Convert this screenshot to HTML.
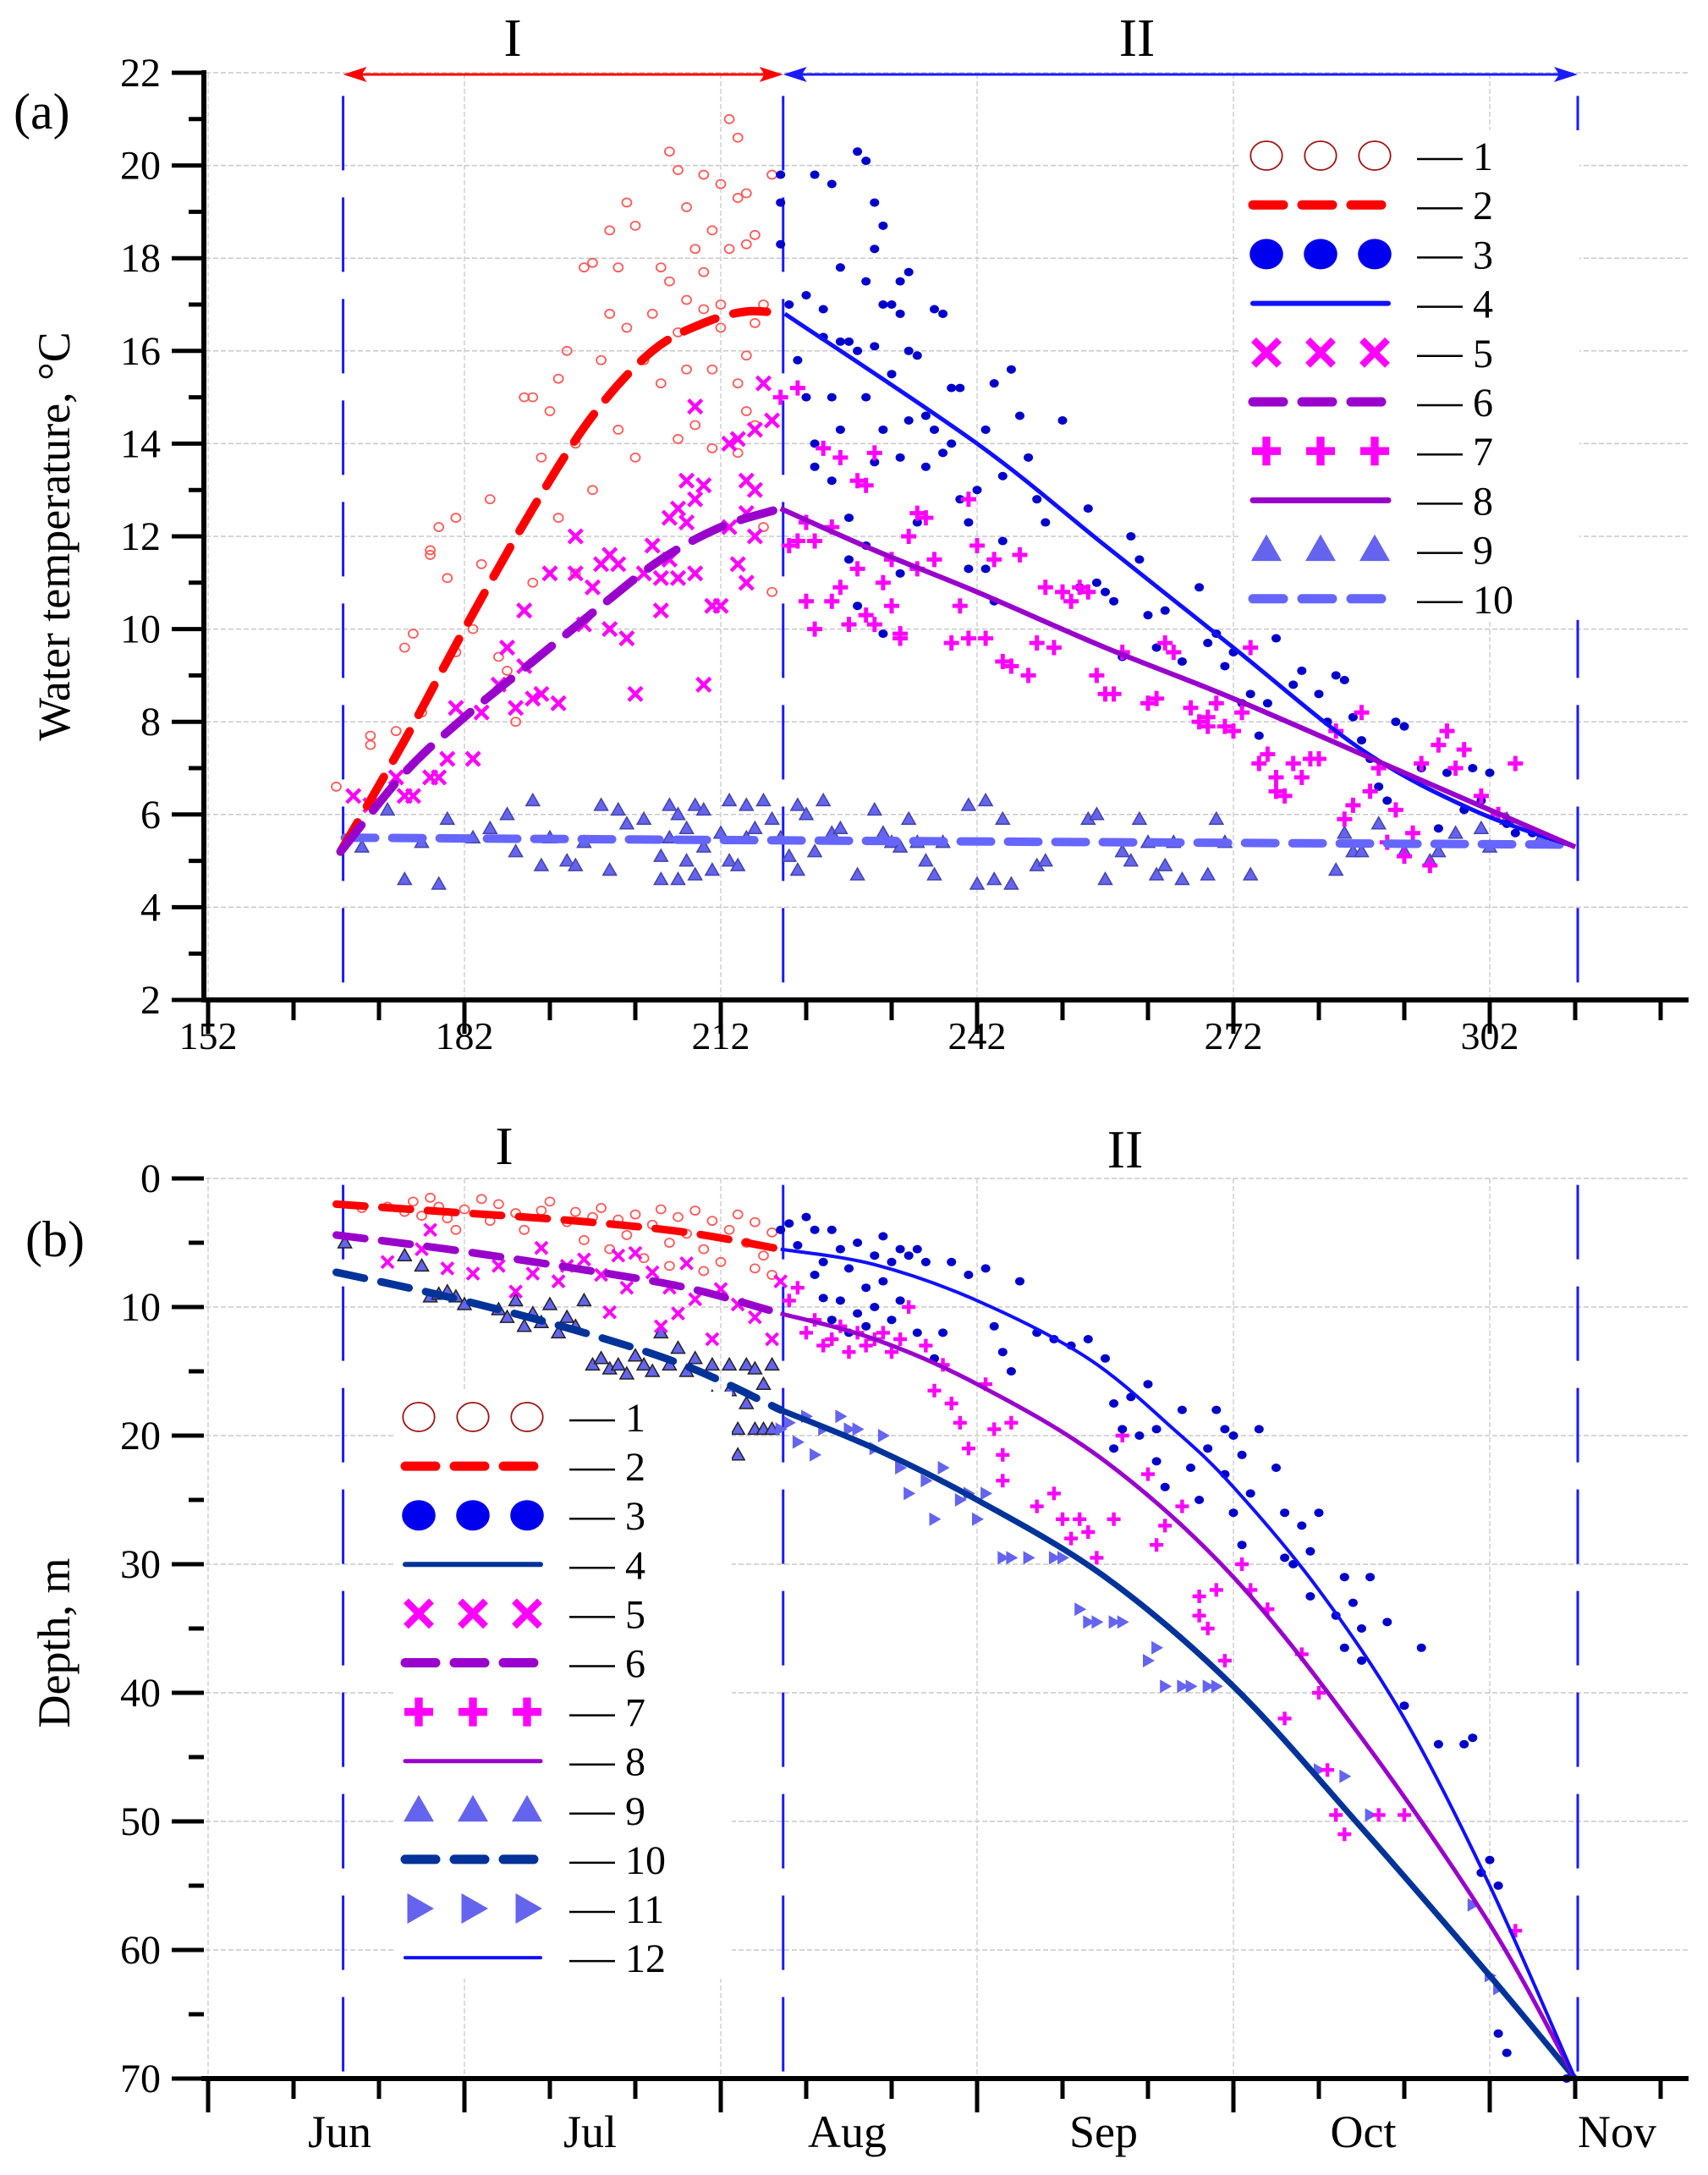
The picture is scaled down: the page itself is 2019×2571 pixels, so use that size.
<!DOCTYPE html>
<html><head><meta charset="utf-8"><style>
html,body{margin:0;padding:0;background:#fff}
svg{display:block;font-family:"Liberation Serif",serif}
</style></head><body>
<svg id="chart" width="2019" height="2571" viewBox="0 0 2019 2571" xmlns="http://www.w3.org/2000/svg">
<rect width="2019" height="2571" fill="#fff"/>
<g id="pa"></g>
<g id="pb"></g>
</svg>
<script>
// ---------- Panel (a) data ----------
const aXTicks=[152,182,212,242,272,302];
const aYTicks=[2,4,6,8,10,12,14,16,18,20,22];
const aS1=[[167,6.6],[171,7.7],[171,7.5],[174,7.8],[175,9.6],[176,9.9],[177,8.2],[178,11.7],[178,11.6],[179,12.2],[180,11.1],[181,12.4],[181,9.5],[183,10.0],[184,11.4],[185,12.8],[186,9.4],[187,9.1],[188,8.0],[189,15.0],[190,15.0],[190,11.0],[191,13.7],[192,14.7],[193,15.4],[193,12.4],[194,16.0],[195,14.0],[195,11.2],[196,17.8],[197,17.9],[197,13.0],[198,15.8],[199,18.6],[199,16.8],[200,17.8],[200,14.3],[201,19.2],[201,16.5],[202,18.7],[202,13.7],[203,15.8],[204,16.8],[205,17.8],[205,15.3],[206,20.3],[206,17.5],[207,19.9],[207,16.4],[207,14.1],[208,19.1],[208,15.6],[208,17.1],[209,18.2],[209,14.4],[210,19.8],[210,17.7],[210,16.9],[211,18.6],[211,15.6],[211,13.9],[212,19.6],[212,17.0],[212,16.5],[213,21.0],[213,18.2],[214,20.6],[214,19.3],[214,15.3],[214,13.8],[215,19.4],[215,18.3],[215,15.9],[215,14.7],[216,18.5],[216,16.6],[216,14.4],[217,17.0],[217,12.2],[218,19.8],[218,10.8]];
const aS2=[[167.5,5.2],[175,7.6],[182,10.0],[190,12.6],[197,14.6],[204,16.0],[210,16.6],[215,16.85],[219.5,16.8]];
const aS3=[[219,19.8],[219,19.2],[219,18.3],[220,17.0],[221,15.8],[222,17.2],[222,15.0],[223,19.8],[223,14.0],[223,13.5],[224,16.3],[224,16.9],[225,19.6],[225,15.0],[225,13.2],[226,17.8],[226,16.2],[226,14.3],[227,16.2],[227,12.4],[227,11.5],[228,20.3],[228,16.0],[228,10.5],[229,20.1],[229,17.5],[229,15.0],[229,11.8],[230,19.2],[230,18.2],[230,16.1],[230,13.6],[231,18.7],[231,17.0],[231,14.3],[231,9.9],[232,17.0],[232,15.5],[233,16.8],[233,17.5],[233,13.7],[233,11.2],[234,17.7],[234,16.0],[234,14.5],[235,15.9],[235,12.3],[236,14.6],[236,13.5],[237,16.9],[237,14.3],[238,16.8],[238,13.8],[239,15.2],[239,14.0],[240,15.2],[240,12.8],[241,12.3],[241,11.3],[242,13.0],[243,14.3],[243,11.3],[244,15.3],[244,10.6],[245,13.3],[245,11.9],[246,15.6],[247,14.6],[248,13.7],[249,12.8],[250,12.3],[252,14.5],[254,10.9],[255,12.6],[256,11.0],[257,10.8],[258,10.6],[259,9.4],[260,12.0],[261,11.5],[262,10.3],[263,9.6],[264,10.4],[266,9.3],[268,10.9],[269,9.7],[270,9.9],[271,9.2],[272,9.5],[273,8.4],[274,8.6],[275,7.7],[276,8.4],[277,9.8],[279,8.8],[280,9.1],[282,8.6],[283,8.0],[284,9.0],[285,8.9],[286,8.1],[287,7.6],[288,7.2],[289,6.6],[290,6.3],[291,8.0],[292,7.9],[294,7.0],[296,5.7],[297,6.9],[299,6.1],[300,7.0],[301,6.3],[302,6.9],[304,5.8],[305,5.6],[307,5.6]];
const aS4=[[219.5,16.8],[242,14.0],[257,11.8],[272,9.6],[287,7.4],[300,6.1],[312,5.3]];
const aS5=[[169,6.4],[171,6.2],[174,6.8],[175,6.4],[176,6.4],[178,6.8],[179,6.8],[180,7.2],[181,8.3],[183,7.2],[184,8.2],[186,8.8],[187,9.6],[188,8.3],[189,10.4],[189,9.2],[190,8.5],[191,8.6],[192,11.2],[193,8.4],[195,12.0],[195,11.2],[196,10.1],[197,10.9],[198,11.4],[199,11.6],[199,10.0],[200,11.4],[201,9.8],[202,8.6],[203,11.2],[204,11.8],[205,11.1],[205,10.4],[206,12.4],[206,11.5],[207,12.6],[207,11.1],[208,13.2],[208,12.3],[209,12.8],[209,14.8],[209,11.2],[210,13.1],[210,8.8],[211,10.5],[212,10.5],[213,14.0],[213,12.2],[214,14.1],[214,11.4],[215,13.2],[215,12.5],[215,11.0],[216,14.3],[216,13.0],[216,12.0],[217,15.3],[218,14.5]];
const aS6=[[167.5,5.2],[175,6.9],[182,8.1],[190,9.3],[198,10.5],[205,11.5],[212,12.2],[219,12.6]];
const aS7=[[219,15.0],[220,11.8],[221,15.2],[221,11.9],[222,12.3],[222,10.6],[223,11.9],[223,10.0],[224,13.9],[225,12.2],[225,10.6],[226,13.7],[226,10.9],[227,10.1],[228,13.2],[228,11.3],[229,13.1],[229,10.3],[230,13.8],[230,10.1],[231,11.0],[232,11.5],[232,10.5],[233,9.8],[233,9.9],[234,12.0],[235,12.5],[235,11.3],[236,12.4],[237,11.5],[239,9.7],[240,10.5],[241,12.8],[241,9.8],[242,11.8],[243,9.8],[244,11.5],[245,9.3],[246,9.2],[247,11.6],[248,9.0],[249,9.7],[250,10.9],[251,9.6],[252,10.8],[253,10.6],[254,10.9],[255,10.8],[256,9.0],[257,8.6],[258,8.6],[259,9.5],[262,8.4],[263,8.5],[264,9.7],[265,9.5],[267,8.3],[268,8.0],[269,8.1],[269,7.9],[270,8.4],[271,7.9],[272,7.8],[273,8.2],[274,9.6],[275,7.1],[276,7.3],[277,6.8],[277,6.5],[278,6.4],[279,7.1],[280,6.8],[281,7.2],[282,7.2],[284,7.8],[285,5.9],[286,6.2],[287,8.2],[288,6.5],[289,7.0],[290,5.4],[291,6.1],[292,5.1],[293,5.6],[294,7.1],[295,4.9],[296,7.5],[297,7.8],[298,7.0],[299,7.4],[301,6.4],[303,6.0],[305,7.1]];
const aS8=[[219,12.6],[230,11.7],[242,10.8],[257,9.6],[272,8.5],[292,6.9],[312,5.3]];
const aS9=[[170,5.3],[173,6.1],[175,4.6],[177,5.4],[179,4.5],[180,5.9],[183,5.5],[185,5.7],[187,6.0],[188,5.2],[190,6.3],[191,4.9],[192,5.5],[194,5.0],[195,4.9],[196,5.4],[198,6.2],[199,4.8],[200,6.1],[201,5.8],[203,5.9],[205,5.1],[205,4.6],[206,6.2],[206,5.5],[207,4.6],[207,6.0],[208,5.0],[208,5.7],[209,6.2],[209,4.7],[210,5.3],[210,6.1],[211,4.8],[212,5.6],[213,6.3],[213,5.0],[214,4.9],[215,6.2],[215,5.5],[216,5.7],[217,6.3],[218,5.9],[219,5.5],[220,5.1],[221,6.2],[221,4.8],[222,6.0],[223,5.2],[224,6.3],[225,5.6],[226,5.7],[228,4.7],[230,6.1],[231,5.6],[232,5.4],[233,5.3],[234,5.9],[235,5.4],[236,5.0],[237,4.7],[238,5.4],[241,6.2],[242,4.5],[243,6.3],[244,4.6],[245,5.9],[246,4.5],[249,4.9],[250,5.0],[255,5.9],[256,6.0],[257,4.6],[259,5.2],[260,5.0],[261,5.9],[262,5.4],[263,4.7],[264,4.9],[265,5.4],[266,4.6],[269,4.7],[270,5.9],[271,5.4],[274,4.7],[284,4.8],[285,5.6],[286,5.2],[287,5.2],[289,5.8],[292,5.2],[295,5.0],[296,5.2],[298,5.6],[301,5.7],[302,5.3],[304,5.9],[308,5.5]];
const aS10=[[168,5.5],[240,5.42],[312,5.35]];
// ---------- Panel (b) data ----------
const bMonths=["Jun","Jul","Aug","Sep","Oct","Nov"];
const bMonthDays=[167.4,196.7,226.8,256.8,287.2,316.9];
const bYTicks=[0,10,20,30,40,50,60,70];
const bS1=[[170,2.3],[173,2.2],[175,2.6],[176,1.8],[177,2.9],[178,1.5],[179,2.2],[180,3.1],[181,4.0],[182,2.4],[184,1.6],[185,3.3],[186,2.0],[188,2.7],[189,4.0],[191,2.5],[192,1.8],[194,3.4],[195,2.6],[196,4.8],[197,3.0],[198,2.3],[199,5.5],[200,3.2],[201,4.4],[202,2.8],[203,6.2],[204,3.6],[205,2.4],[206,5.0],[207,3.0],[208,4.3],[209,2.5],[210,5.5],[211,3.3],[212,6.5],[213,4.0],[214,2.8],[215,5.0],[216,3.4],[217,6.0],[218,4.2],[218,7.5],[216,7.0],[210,7.2],[206,6.8]];
const bS2=[[167,2.0],[180,2.6],[195,3.3],[208,4.2],[219,5.5]];
const bS3=[[219,4.0],[220,3.5],[221,5.2],[222,3.0],[223,4.0],[223,7.5],[224,9.3],[224,6.5],[225,4.0],[225,11.0],[226,5.5],[226,9.5],[227,12.0],[227,7.0],[228,5.0],[228,10.5],[229,8.5],[229,11.5],[230,6.0],[230,10.0],[231,4.5],[231,8.0],[232,11.0],[232,6.5],[233,5.5],[233,9.5],[234,6.0],[235,12.0],[235,5.5],[236,6.5],[237,14.0],[238,12.0],[239,6.5],[241,7.5],[243,7.0],[244,11.5],[245,13.5],[246,15.0],[247,8.0],[249,12.0],[251,12.5],[253,13.0],[255,12.5],[257,14.0],[258,21.0],[258,17.5],[259,19.5],[260,17.0],[261,20.0],[262,16.0],[263,22.0],[263,19.5],[264,24.0],[266,18.0],[267,22.5],[268,25.0],[269,21.0],[270,18.0],[271,19.5],[271,23.0],[272,20.0],[272,26.0],[273,28.5],[273,21.5],[274,24.5],[275,19.5],[277,22.5],[278,29.5],[278,26.0],[279,30.0],[280,27.0],[281,32.5],[281,29.0],[282,26.0],[284,34.0],[285,36.5],[285,31.0],[286,33.0],[287,35.0],[287,37.5],[288,31.0],[290,34.5],[292,41.0],[294,36.5],[296,44.0],[299,44.0],[300,43.5],[301,54.0],[302,53.0],[303,55.0],[303,66.5],[304,68.0],[311,70]];
const bS4=[[219,18],[230,21],[242,25],[257,31],[272,39.5],[287,50.5],[302,62],[312,70]];
const bS5=[[173,6.5],[177,5.5],[178,4.0],[180,7.0],[183,7.4],[186,6.8],[188,8.8],[190,7.4],[191,5.4],[193,8.0],[194,6.8],[196,6.3],[198,7.5],[199,10.4],[200,6.0],[201,8.5],[202,5.8],[204,7.3],[205,11.5],[206,8.5],[207,10.5],[208,6.6],[209,9.4],[211,12.5],[212,8.6],[214,9.8],[216,10.8],[218,12.5],[219,8.0]];
const bS6=[[167,4.4],[180,5.5],[195,7.0],[208,8.5],[219,10.5]];
const bS7=[[220,9.5],[221,8.5],[222,12.0],[223,11.0],[224,13.0],[225,12.5],[226,11.5],[227,13.5],[228,12.0],[229,13.0],[230,12.5],[231,12.0],[232,13.5],[233,12.5],[234,10.0],[236,13.0],[237,16.5],[238,14.5],[239,17.5],[240,19.0],[241,21.0],[243,16.0],[244,19.5],[245,21.5],[245,23.5],[246,19.0],[249,25.5],[251,24.5],[252,26.5],[253,28.0],[254,26.5],[255,27.5],[256,29.5],[258,26.5],[259,20.0],[262,23.0],[263,28.5],[264,27.0],[266,25.5],[268,32.5],[268,34.0],[269,35.0],[270,32.0],[271,37.5],[273,30.0],[274,32.0],[276,33.5],[278,42.0],[280,37.0],[282,40.0],[283,46.0],[284,49.5],[285,51.0],[289,49.5],[292,49.5],[305,58.5]];
const bS8=[[219,10.5],[230,12.5],[242,16],[257,22],[272,31],[287,43.5],[302,58],[312,70]];
const bS9=[[168,5.0],[175,6.0],[177,6.8],[178,9.2],[179,9.0],[180,8.8],[181,9.2],[182,9.8],[186,10.2],[187,10.8],[188,9.5],[189,11.5],[190,10.5],[191,11.2],[192,9.8],[193,12.0],[194,10.8],[195,11.5],[196,9.5],[197,14.5],[198,14.0],[199,14.8],[200,14.5],[201,15.2],[202,13.8],[203,14.5],[204,15.0],[205,12.0],[206,14.5],[207,13.2],[208,15.0],[209,14.0],[210,19.5],[211,14.5],[212,18.5],[212,19.5],[213,16.5],[213,14.5],[214,19.5],[214,21.5],[215,17.5],[215,14.5],[216,19.5],[216,14.8],[217,16.0],[217,19.5],[218,19.5],[218,14.5],[209,19.5],[211,17.0]];
const bS10=[[167,7.3],[180,9.2],[195,11.8],[208,14.6],[219,18]];
const bS11=[[219,19.5],[220,19.0],[221,20.5],[222,18.5],[223,21.5],[224,19.5],[226,18.5],[227,19.5],[228,19.5],[230,21.0],[231,20.0],[233,22.5],[234,24.5],[236,23.5],[237,26.5],[238,22.5],[240,25.0],[241,24.5],[242,26.5],[243,24.5],[245,29.5],[246,29.5],[248,29.5],[251,29.5],[252,29.5],[254,33.5],[255,34.5],[256,34.5],[258,34.5],[259,34.5],[262,37.5],[263,36.5],[264,39.5],[266,39.5],[267,39.5],[269,39.5],[270,39.5],[282,46.0],[285,46.5],[288,49.5],[300,56.5],[302,62.0],[303,63.0]];
const bS12=[[219,5.5],[230,6.7],[242,9.5],[255,14],[265,19.5],[272,24],[282,32],[292,42],[302,55],[312,70]];
const vLines=[167.8,219.3,312.3];

const NS="http://www.w3.org/2000/svg";
function el(p,t,a){const e=document.createElementNS(NS,t);for(const k in a)e.setAttribute(k,a[k]);p.appendChild(e);return e;}
const X=d=>246+(d-152)*10.1;
const aY=v=>86+(22-v)*54.8;
const bY=v=>1393+v*15.2;

function smooth(pts){
  let d="M"+pts[0][0]+","+pts[0][1];
  for(let i=0;i<pts.length-1;i++){
    const p0=pts[Math.max(0,i-1)],p1=pts[i],p2=pts[i+1],p3=pts[Math.min(pts.length-1,i+2)];
    const c1=[p1[0]+(p2[0]-p0[0])/6,p1[1]+(p2[1]-p0[1])/6];
    const c2=[p2[0]-(p3[0]-p1[0])/6,p2[1]-(p3[1]-p1[1])/6];
    d+=" C"+c1[0]+","+c1[1]+" "+c2[0]+","+c2[1]+" "+p2[0]+","+p2[1];
  }
  return d;
}
function marker(g,type,x,y,s,col,stroke){
  let m;
  if(type==="circle"){m=el(g,"ellipse",{cx:x,cy:y,rx:s*1.1,ry:s,fill:"none",stroke:col,"stroke-width":1.8});}
  else if(type==="dot"){m=el(g,"ellipse",{cx:x,cy:y,rx:s*1.1,ry:s,fill:col});}
  else if(type==="x"){m=el(g,"path",{d:`M${x-s},${y-s}L${x+s},${y+s}M${x-s},${y+s}L${x+s},${y-s}`,stroke:col,"stroke-width":s*0.55,fill:"none"});}
  else if(type==="plus"){m=el(g,"path",{d:`M${x-s},${y}L${x+s},${y}M${x},${y-s}L${x},${y+s}`,stroke:col,"stroke-width":s*0.55,fill:"none"});}
  else if(type==="tri"){m=el(g,"path",{d:`M${x},${y-s}L${x+s},${y+s*0.75}L${x-s},${y+s*0.75}Z`,fill:col,stroke:stroke||"none","stroke-width":1.5});}
  else if(type==="rtri"){m=el(g,"path",{d:`M${x-s*0.75},${y-s}L${x+s},${y}L${x-s*0.75},${y+s}Z`,fill:col});}
  return m;
}
function scatter(g,data,Y,type,s,col,name,stroke){
  const gg=el(g,"g",{});
  
  
  data.forEach(p=>{const m=marker(gg,type,X(p[0]),Y(p[1]),s,col,stroke);
    
    });
}
function line(g,data,Y,col,w,dash,name){
  const pts=data.map(p=>[X(p[0]),Y(p[1])]);
  const a={d:smooth(pts),fill:"none",stroke:col,"stroke-width":w,"stroke-linecap":dash?"round":"butt"};
  if(dash)a["stroke-dasharray"]=dash;
  const e=el(g,"path",a);
  
  
}
function axes(g,Y,y0,y1,yMaj){
  yMaj.forEach(v=>{const e=el(g,"line",{x1:243,x2:1995,y1:Y(v),y2:Y(v),stroke:"#c8c8c8","stroke-width":1.5,"stroke-dasharray":"6,3"});
    });
  aXTicks.forEach(d=>{const e=el(g,"line",{x1:X(d),x2:X(d),y1:Y(y0),y2:Y(y1),stroke:"#d0d0d0","stroke-width":1.5,"stroke-dasharray":"6,3"});
    });
}
function frame(g,Y,y0,y1,yMaj,yMinStep,labelFn,axisY){
  const ya=el(g,"line",{x1:241,x2:241,y1:Y(y1)-3,y2:axisY+3,stroke:"#000","stroke-width":6});
  
  const lo=Math.min(y0,y1),hi=Math.max(y0,y1);
  for(let v=lo;v<=hi+1e-9;v+=yMinStep){
    const maj=yMaj.includes(Math.round(v*100)/100);
    el(g,"line",{x1:maj?203:223,x2:241,y1:Y(v),y2:Y(v),stroke:"#000","stroke-width":5});
  }
  yMaj.forEach(v=>{const t=el(g,"text",{x:190,y:Y(v)+16,"text-anchor":"end","font-size":48});t.textContent=labelFn(v);
    });
  const xa=el(g,"line",{x1:238,x2:1996,y1:axisY,y2:axisY,stroke:"#000","stroke-width":6});
  
  for(let d=152;d<=322;d+=10){
    const maj=aXTicks.includes(d);
    el(g,"line",{x1:X(d),x2:X(d),y1:axisY,y2:axisY+(maj?40:24),stroke:"#000","stroke-width":5});
  }
}
function vdash(g,y0,y1){
  vLines.forEach(d=>{const e=el(g,"line",{x1:X(d),x2:X(d),y1:y0,y2:y1,stroke:"#1a1aff","stroke-width":3,"stroke-dasharray":"88,32"});
    });
}
function txt(g,x,y,s,str,name,extra){
  const t=el(g,"text",Object.assign({x:x,y:y,"font-size":s},extra||{}));t.textContent=str;
  return t;
}
function legend(g,x0,y0,step,items,name){
  const lg=el(g,"g",{});
  
  
  el(lg,"rect",{x:x0-30,y:y0-30,width:400,height:step*(items.length-1)+55,fill:"#fff"});
  items.forEach((it,i)=>{
    const y=y0+i*step, xs=[x0,x0+64,x0+128];
    const row=el(lg,"g",{});
    
    
    if(it.m){xs.forEach(x=>marker(row,it.m,x,y,it.s,it.c,it.st));}
    else{const a={x1:x0-16,x2:x0+144,y1:y,y2:y,stroke:it.c,"stroke-width":it.w,"stroke-linecap":"round"};
      if(it.d)a["stroke-dasharray"]=it.d; el(row,"line",a);}
    el(row,"line",{x1:x0+178,x2:x0+232,y1:y+4,y2:y+4,stroke:"#000","stroke-width":2.5});
    const t=el(row,"text",{x:x0+244,y:y+17,"font-size":48});t.textContent=String(i+1);
  });
}

// ---------- Panel A ----------
const A=document.getElementById("pa");
axes(A,aY,2,22,aYTicks);
vdash(A,aY(21.5),aY(2.3));
el(A,"line",{x1:X(167.8)+22,x2:X(219.3)-4,y1:88,y2:88,stroke:"#ff0000","stroke-width":3});
el(A,"path",{d:`M${X(167.8)},88 l28,-9 l-6,9 l6,9z`,fill:"#ff0000"});
el(A,"path",{d:`M${X(219.3)},88 l-28,-9 l6,9 l-6,9z`,fill:"#ff0000"});
el(A,"line",{x1:X(219.3)+4,x2:X(312.3)-22,y1:88,y2:88,stroke:"#1a1aff","stroke-width":3});
el(A,"path",{d:`M${X(219.3)},88 l28,-9 l-6,9 l6,9z`,fill:"#1a1aff"});
el(A,"path",{d:`M${X(312.3)},88 l-28,-9 l6,9 l-6,9z`,fill:"#1a1aff"});
legend(A,1497,184,58.2,[
 {m:"circle",s:17,c:"#a01010"},{c:"#ff0000",w:11,d:"36,22"},{m:"dot",s:18,c:"#0000ee"},{c:"#1010ff",w:6},
 {m:"x",s:15,c:"#ff00ff"},{c:"#9900cc",w:11,d:"36,22"},{m:"plus",s:17,c:"#ff00ff"},{c:"#9900cc",w:7},
 {m:"tri",s:18,c:"#6464ee"},{c:"#6666ff",w:11,d:"36,22"}],"legend-a");
scatter(A,aS9,aY,"tri",8,"#6464ee","s9-triangles","#4444aa");
scatter(A,aS1,aY,"circle",5,"#ff5a5a","s1-circles");
scatter(A,aS3,aY,"dot",5,"#0000cc","s3-dots");
scatter(A,aS5,aY,"x",8,"#ff00ff","s5-crosses");
scatter(A,aS7,aY,"plus",9,"#ff00ff","s7-plus");
line(A,aS10,aY,"#6666ff",10,"36,20","s10-line");
line(A,aS2,aY,"#ff0000",10,"40,22","s2-line");
line(A,aS6,aY,"#9900cc",10,"40,22","s6-line");
line(A,aS4,aY,"#1010ff",5,null,"s4-line");
line(A,aS8,aY,"#9900cc",6,null,"s8-line");
frame(A,aY,2,22,aYTicks,1,v=>String(v),1182);
aXTicks.forEach(d=>txt(A,X(d),1240,46,String(d),"x-tick-label",{"text-anchor":"middle"}));
txt(A,16,152,60,"(a)","panel-a-label");
txt(A,606,66,64,"I","period-I-label",{"text-anchor":"middle"});
txt(A,1344,66,64,"II","period-II-label",{"text-anchor":"middle"});
txt(A,0,0,54,"Water temperature, °C","y-axis-title",{transform:"translate(82,634) rotate(-90)","text-anchor":"middle"});

// ---------- Panel B ----------
const B=document.getElementById("pb");
axes(B,bY,0,70,bYTicks);
vdash(B,bY(0.5),bY(69.8));
scatter(B,bS1,bY,"circle",5,"#ff5a5a","b-s1-circles");
scatter(B,bS9,bY,"tri",8,"#6464ee","b-s9-triangles","#222");
scatter(B,bS11,bY,"rtri",8,"#6464ee","b-s11-right-triangles");
scatter(B,bS5,bY,"x",7,"#ff00ff","b-s5-crosses");
scatter(B,bS7,bY,"plus",8,"#ff00ff","b-s7-plus");
scatter(B,bS3,bY,"dot",5,"#0000cc","b-s3-dots");
line(B,bS2,bY,"#ff0000",9,"34,20","b-s2-line");
line(B,bS6,bY,"#9900cc",9,"34,20","b-s6-line");
line(B,bS10,bY,"#003399",9,"34,20","b-s10-line");
line(B,bS4,bY,"#003399",7,null,"b-s4-line");
line(B,bS8,bY,"#9900cc",5,null,"b-s8-line");
line(B,bS12,bY,"#1010ff",4,null,"b-s12-line");
legend(B,495,1675,58.1,[
 {m:"circle",s:17,c:"#a01010"},{c:"#ff0000",w:11,d:"36,22"},{m:"dot",s:18,c:"#0000ee"},{c:"#003399",w:6},
 {m:"x",s:15,c:"#ff00ff"},{c:"#9900cc",w:11,d:"36,22"},{m:"plus",s:17,c:"#ff00ff"},{c:"#9900cc",w:5},
 {m:"tri",s:18,c:"#6464ee"},{c:"#003399",w:11,d:"36,22"},{m:"rtri",s:18,c:"#6464ee"},{c:"#1010ff",w:4}],"legend-b");
frame(B,bY,0,70,bYTicks,5,v=>String(v),2457);
bMonths.forEach((m,i)=>txt(B,X(bMonthDays[i]),2538,54,m,"x-month-label",{"text-anchor":"middle"}));
txt(B,30,1485,60,"(b)","panel-b-label");
txt(B,596,1376,64,"I","period-I-label-b",{"text-anchor":"middle"});
txt(B,1330,1380,64,"II","period-II-label-b",{"text-anchor":"middle"});
txt(B,0,0,54,"Depth, m","y-axis-title-b",{transform:"translate(82,1942) rotate(-90)","text-anchor":"middle"});
</script>
</body></html>
